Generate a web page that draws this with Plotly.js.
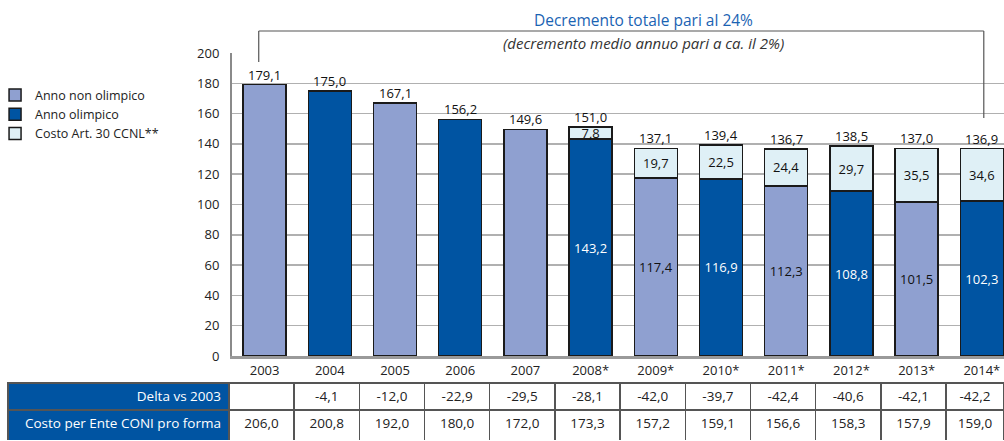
<!DOCTYPE html>
<html>
<head>
<meta charset="utf-8">
<script src="https://cdn.plot.ly/plotly-3.0.1.min.js"></script>
<style>
  html, body { margin: 0; padding: 0; background: #fff; }
  #chart { width: 1004px; height: 441px; }
</style>
</head>
<body>
<div id="chart"></div>
<script>
// anni (le etichette con * sono stime)
var anni = ['2003', '2004', '2005', '2006', '2007', '2008*', '2009*', '2010*', '2011*', '2012*', '2013*', '2014*'];

// costo base per anno, diviso fra anni olimpici e non
var nonOlimpico = [179.1, null, 167.1, null, 149.6, null, 117.4, null, 112.3, null, 101.5, null];
var olimpico    = [null, 175.0, null, 156.2, null, 143.2, null, 116.9, null, 108.8, null, 102.3];
var costoArt30  = [null, null, null, null, null, 7.8, 19.7, 22.5, 24.4, 29.7, 35.5, 34.6];
var totali      = [179.1, 175.0, 167.1, 156.2, 149.6, 151.0, 137.1, 139.4, 136.7, 138.5, 137.0, 136.9];

// righe della tabella sotto il grafico
var deltaVs2003 = [null, -4.1, -12.0, -22.9, -29.5, -28.1, -42.0, -39.7, -42.4, -40.6, -42.1, -42.2];
var costoProForma = [206.0, 200.8, 192.0, 180.0, 172.0, 173.3, 157.2, 159.1, 156.6, 158.3, 157.9, 159.0];

var FONT = '"Open Sans", "Noto Sans", sans-serif';
var fmt = v => v == null ? '' : v.toFixed(1).replace('.', ',');

// etichetta interna solo quando c'e' anche il costo art. 30
var testoBase = serie => serie.map((v, i) => (v != null && costoArt30[i] != null) ? fmt(v) : '');

var barLine = {color: '#1a1a1a', width: 1.5};

var traceNon = {
    x: anni, y: nonOlimpico, type: 'bar', name: 'Anno non olimpico',
    marker: {color: '#8fa0d0', line: barLine},
    text: testoBase(nonOlimpico), textposition: 'inside', insidetextanchor: 'middle',
    textfont: {color: '#111', size: 13, family: FONT}, hoverinfo: 'skip'
};
var traceOli = {
    x: anni, y: olimpico, type: 'bar', name: 'Anno olimpico',
    marker: {color: '#0054a2', line: barLine},
    text: testoBase(olimpico), textposition: 'inside', insidetextanchor: 'middle',
    textfont: {color: '#ffffff', size: 13, family: FONT}, hoverinfo: 'skip'
};
var traceCosto = {
    x: anni, y: costoArt30, type: 'bar', name: 'Costo Art. 30 CCNL**',
    marker: {color: '#dff0f6', line: barLine},
    text: costoArt30.map(fmt), textposition: 'inside', insidetextanchor: 'middle',
    constraintext: 'none',
    textfont: {color: '#111', size: 13, family: FONT}, hoverinfo: 'skip'
};

var colW = [221].concat(anni.map((a, i) => i == anni.length - 1 ? 58 : 65.2));
var traceTab = {
    type: 'table',
    domain: {x: [0, 1], y: [0, 0.1315]},
    columnwidth: colW,
    header: {
        values: [['Delta vs 2003']].concat(deltaVs2003.map(v => [fmt(v)])),
        align: ['right'].concat(anni.map(() => 'center')),
        fill: {color: ['#0054a2'].concat(anni.map(() => '#ffffff'))},
        font: {family: FONT, size: 13.5, color: ['#ffffff'].concat(anni.map(() => '#222'))},
        line: {color: '#555', width: 1.5},
        height: 27
    },
    cells: {
        values: [['Costo per Ente CONI pro forma']].concat(costoProForma.map(v => [fmt(v)])),
        align: ['right'].concat(anni.map(() => 'center')),
        fill: {color: ['#0054a2'].concat(anni.map(() => '#ffffff'))},
        font: {family: FONT, size: 13.5, color: ['#ffffff'].concat(anni.map(() => '#222'))},
        line: {color: '#555', width: 1.5},
        height: 31
    }
};

// totali sopra ogni barra (x come indice di categoria)
var etichetteTot = totali.map((v, i) => ({
    x: i, y: v, xref: 'x', yref: 'y', text: fmt(v),
    showarrow: false, yanchor: 'bottom', yshift: 0, borderpad: 0,
    font: {size: 13, color: '#111', family: FONT}
}));

var bracket = {color: '#555', width: 1.2};

var layout = {
    width: 1004, height: 441,
    margin: {l: 8, r: 0, t: 0, b: 0, autoexpand: false},
    paper_bgcolor: '#ffffff', plot_bgcolor: '#ffffff',
    font: {family: FONT, size: 13, color: '#222'},
    separators: ',.',
    barmode: 'stack',
    bargap: 0.34,
    showlegend: true,
    legend: {
        x: -0.013, y: 0.818, xanchor: 'left', yanchor: 'top',
        traceorder: 'normal', font: {size: 12.5, color: '#222'},
        itemwidth: 30, tracegroupgap: 0, bgcolor: 'rgba(0,0,0,0)'
    },
    xaxis: {
        type: 'category',
        domain: [0.2249, 1], range: [-0.5, 11.34],
        showline: true, linecolor: '#9a9a9a', linewidth: 3,
        ticks: '', tickfont: {size: 13, color: '#222'},
        showgrid: false, fixedrange: true
    },
    yaxis: {
        domain: [0.1927, 0.8798], range: [0, 200], dtick: 20,
        showline: true, linecolor: '#8a8a8a', linewidth: 2,
        gridcolor: '#b0b0b0', gridwidth: 1.5, zeroline: false,
        ticks: '', ticklabelstandoff: 8, tickfont: {size: 13, color: '#222'},
        fixedrange: true
    },
    shapes: [
        {type: 'line', xref: 'x', yref: 'paper', x0: -0.09, x1: -0.09, y0: 0.8594, y1: 0.9297, line: bracket},
        {type: 'line', xref: 'x', yref: 'paper', x0: -0.09, x1: 11.03, y0: 0.9297, y1: 0.9297, line: bracket},
        {type: 'line', xref: 'x', yref: 'paper', x0: 11.03, x1: 11.03, y0: 0.7324, y1: 0.9297, line: bracket}
    ],
    annotations: [
        {text: 'Decremento totale pari al 24%', xref: 'paper', yref: 'paper',
         x: 0.6376, y: 0.955, xanchor: 'center', yanchor: 'middle', showarrow: false,
         font: {size: 15.5, color: '#1a63b3', family: FONT}},
        {text: '<i>(decremento medio annuo pari a ca. il 2%)</i>', xref: 'paper', yref: 'paper',
         x: 0.6376, y: 0.902, xanchor: 'center', yanchor: 'middle', showarrow: false,
         font: {size: 15, color: '#333', family: FONT}}
    ].concat(etichetteTot)
};

Plotly.newPlot('chart', [traceNon, traceOli, traceCosto, traceTab], layout, {displayModeBar: false, staticPlot: true});
</script>
</body>
</html>
